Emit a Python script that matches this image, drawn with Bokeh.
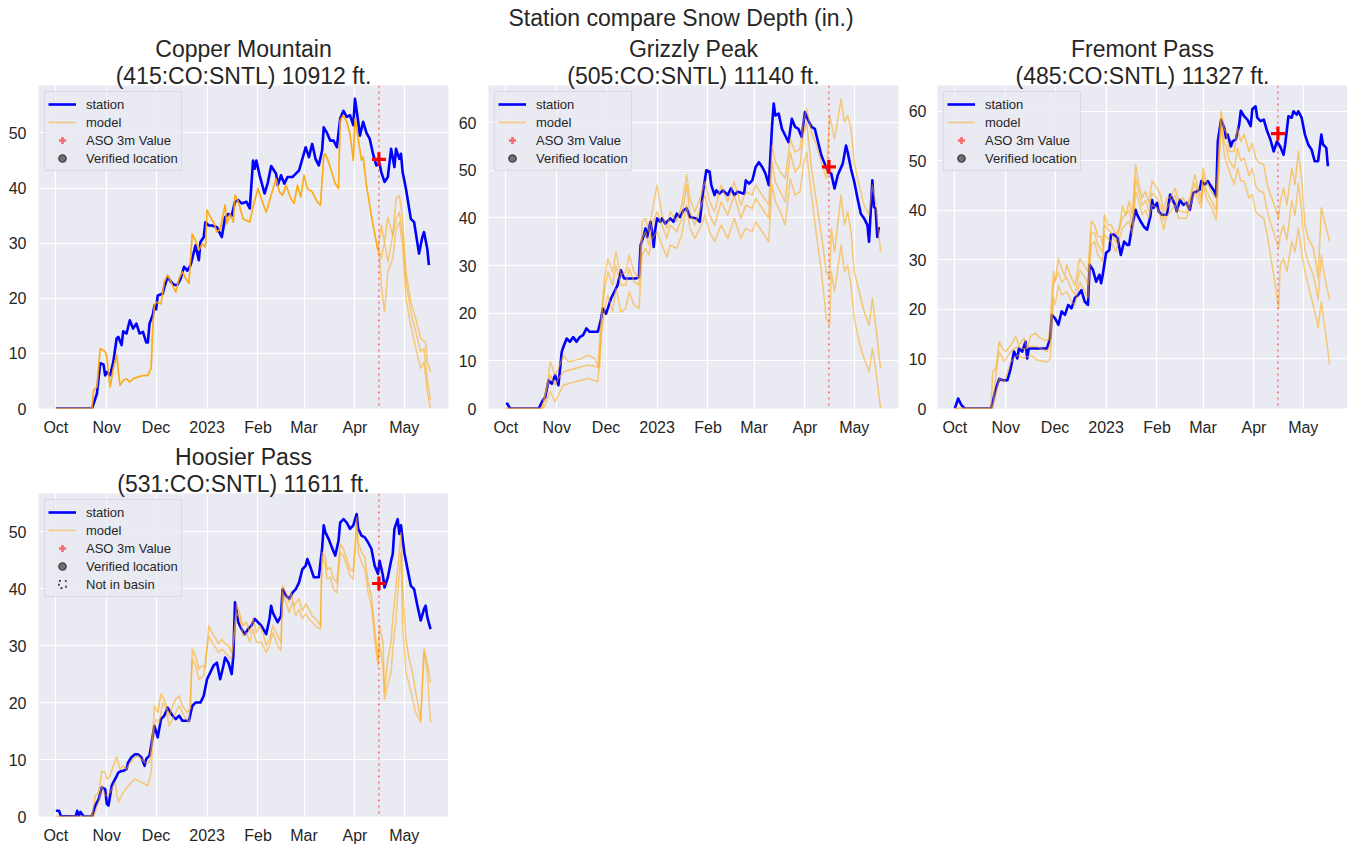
import pandas as pd
from bokeh.plotting import figure
from bokeh.models import (ColumnDataSource, Span, Legend, LegendItem, Title,
                          FixedTicker, Range1d)
from bokeh.layouts import column, row
from bokeh.embed import file_html
from bokeh.resources import INLINE

# ---------------------------------------------------------------- texts / axes
SUPTITLE = "Station compare Snow Depth (in.)"
STATION_NAMES = ["Copper Mountain", "Grizzly Peak", "Fremont Pass", "Hoosier Pass"]
STATION_IDS = ["(415:CO:SNTL) 10912 ft.", "(505:CO:SNTL) 11140 ft.",
               "(485:CO:SNTL) 11327 ft.", "(531:CO:SNTL) 11611 ft."]
SEASON_START = "2022-10-01"
X_START = "2022-09-20 10:48"
X_END = "2023-05-27 22:00"
MONTH_TICKS = ["2022-10-01", "2022-11-01", "2022-12-01", "2023-01-01",
               "2023-02-01", "2023-03-01", "2023-04-01", "2023-05-01"]
MONTH_LABELS = ["Oct", "Nov", "Dec", "2023", "Feb", "Mar", "Apr", "May"]
Y_MAX = [58.6, 67.8, 65.2, 56.7]
Y_TICKS = [[0, 10, 20, 30, 40, 50], [0, 10, 20, 30, 40, 50, 60],
           [0, 10, 20, 30, 40, 50, 60], [0, 10, 20, 30, 40, 50]]
ASO_DATE = "2023-04-15 14:00"
ASO_VALUES = [45.2, 50.7, 55.5, 40.9]
LEGEND_LABELS = ["station", "model", "ASO 3m Value", "Verified location", "Not in basin"]

# ---------------------------------------------------------------- data
# (days since 2022-10-01, snow depth in inches)
# Copper Mountain
cm_station = [(0, 0), (22, 0), (25, 2.7), (27, 8.2), (29, 8.0), (30, 6.0), (31, 6.6), (33, 6.0),
              (35, 8.5), (37, 12.7), (38, 13.0), (40, 11.5), (41, 14.0), (43, 13.6), (45, 16.0),
              (47, 14.5), (49, 15.4), (51, 13.6), (53, 13.9), (55, 12.0), (56, 12.0), (57, 15.4),
              (59, 17.0), (60, 18.7), (61, 18.0), (62, 20.5), (65, 20.8), (66, 22.0), (68, 23.9),
              (70, 23.0), (72, 22.4), (74, 22.4), (76, 23.6), (78, 25.7), (80, 25.0), (82, 26.0),
              (83, 27.2), (85, 29.6), (87, 26.9), (88, 30.2), (90, 31.1), (91, 33.8), (93, 33.2),
              (95, 33.2), (98, 32.9), (101, 31.1), (103, 34.7), (105, 35.3), (107, 35.0),
              (109, 37.5), (111, 37.8), (113, 37.2), (116, 37.5), (118, 36.3), (120, 45.0),
              (121, 43.5), (122, 45.0), (124, 42.3), (127, 39.0), (129, 41.0), (131, 44.0),
              (134, 42.6), (135, 40.5), (137, 42.3), (139, 40.8), (141, 42.0), (144, 42.0),
              (145, 42.3), (148, 43.2), (150, 45.3), (152, 47.4), (154, 45.6), (156, 48.0),
              (158, 45.3), (160, 44.1), (162, 46.8), (163, 51.0), (165, 50.0), (167, 48.6),
              (169, 48.6), (171, 47.4), (173, 52.6), (175, 54.0), (177, 52.9), (179, 53.2),
              (181, 51.4), (182, 56.2), (184, 52.0), (185, 49.5), (187, 52.0), (189, 50.0),
              (191, 48.9), (193, 46.2), (195, 44.1), (197, 44.4), (198, 42.9), (200, 41.1),
              (202, 42.0), (204, 47.1), (206, 43.8), (207, 47.1), (209, 45.3), (210, 46.2),
              (211, 42.9), (213, 39.9), (216, 34.4), (218, 33.8), (221, 28.1), (223, 31.1),
              (224, 32.0), (226, 29.0), (227, 26.0)]
cm_model_common = [(0, 0), (22, 0), (23, 3.3), (25, 3.9), (27, 10.9), (30, 10.3), (31, 9.4), (33, 3.9),
                   (35, 7.3), (37, 9.7), (39, 4.2), (41, 5.1), (43, 5.4), (45, 4.8), (47, 5.4), (50, 5.7),
                   (53, 6.0), (56, 6.0), (58, 7.3), (59, 15.1), (60, 18.7), (61, 19.3), (64, 19.0),
                   (66, 23.0), (68, 24.2), (70, 23.0), (73, 21.1), (75, 23.6), (77, 24.8), (79, 23.6),
                   (81, 22.7), (83, 31.7), (85, 30.5), (87, 28.7), (89, 29.9), (91, 29.3), (92, 36.0),
                   (94, 34.7), (96, 33.8), (98, 32.0), (100, 32.6), (103, 36.9), (104, 33.5),
                   (106, 35.3), (108, 33.8), (109, 38.7), (111, 37.5), (114, 34.4), (116, 34.1),
                   (118, 33.8), (120, 36.6), (123, 39.9), (125, 38.1), (128, 35.6), (131, 38.7),
                   (134, 41.7), (136, 39.3), (138, 38.7), (140, 40.5), (143, 38.1), (145, 37.2),
                   (147, 40.5), (149, 38.4), (151, 42.3), (153, 39.9), (156, 39.3), (159, 37.5),
                   (161, 36.9), (163, 45.9), (164, 46.2), (166, 44.7), (170, 40.8), (172, 39.9),
                   (173, 52.3), (175, 53.2), (177, 52.0), (179, 49.8), (181, 45.0), (182, 52.6),
                   (184, 48.9), (186, 45.0), (187, 45.6), (189, 40.5), (192, 35.0), (195, 30.2),
                   (196, 28.7)]
cm_member_a = [(197, 30.8), (198, 33.2), (200, 30.2), (202, 34.7), (205, 31.4), (207, 38.1), (209, 38.7),
               (211, 34.4), (213, 24.8), (216, 19.3), (219, 16.3), (222, 12.7), (225, 12.0), (226, 8.5),
               (228, 6.6)]
cm_member_b = [(197, 28.7), (198, 27.2), (200, 30.2), (202, 26.6), (205, 31.4), (207, 34.4), (209, 35.6),
               (211, 31.4), (213, 23.0), (216, 17.5), (219, 13.9), (222, 10.3), (224, 10.9), (226, 5.4),
               (228, 1.5)]
cm_member_c = [(197, 27.2), (198, 22.4), (200, 17.5), (202, 24.8), (205, 27.2), (207, 32.6), (209, 33.8),
               (211, 29.6), (213, 19.9), (216, 15.1), (219, 10.9), (222, 7.3), (224, 8.5), (226, 3.0),
               (228, 0.0)]

# Grizzly Peak
gp_station = [(0, 1.0), (1, 1.0), (2, 0.3), (3, 0), (20, 0), (22, 1.4), (24, 2.4), (26, 5.9), (28, 5.2),
              (30, 7.0), (32, 4.9), (34, 11.9), (35, 12.9), (37, 14.7), (39, 14.0), (41, 15.0),
              (43, 14.0), (45, 15.0), (47, 15.4), (49, 16.8), (51, 16.1), (56, 16.1), (58, 18.9),
              (59, 21.0), (61, 19.9), (64, 23.1), (66, 24.5), (68, 25.9), (70, 29.0), (72, 27.3),
              (74, 27.3), (79, 27.3), (81, 27.6), (82, 34.3), (84, 36.4), (85, 37.8), (86, 36.0),
              (88, 39.2), (89, 37.1), (90, 33.9), (91, 37.8), (92, 39.9), (94, 39.2), (95, 39.9),
              (97, 38.8), (100, 39.9), (102, 39.2), (104, 40.9), (106, 40.2), (108, 41.6), (110, 42.0),
              (112, 40.2), (116, 39.9), (118, 39.2), (120, 45.5), (122, 50.0), (124, 49.7), (125, 46.9),
              (127, 44.8), (128, 45.8), (130, 45.1), (132, 45.8), (135, 44.8), (137, 46.2), (139, 44.8),
              (141, 45.5), (145, 45.1), (146, 47.9), (148, 47.2), (150, 47.9), (152, 50.7), (154, 51.7),
              (156, 50.7), (158, 49.3), (160, 46.9), (162, 59.4), (163, 64.0), (164, 61.5), (166, 61.9),
              (168, 58.7), (170, 57.3), (172, 55.9), (174, 60.8), (176, 59.1), (178, 58.7), (180, 57.0),
              (182, 62.2), (184, 60.5), (186, 59.1), (188, 58.7), (190, 55.9), (192, 53.1), (194, 51.4),
              (196, 49.7), (198, 49.3), (200, 46.2), (202, 49.0), (205, 51.4), (207, 55.2), (208, 53.8),
              (210, 50.3), (212, 47.6), (214, 44.1), (216, 40.9), (218, 39.9), (220, 38.5), (221, 35.0),
              (222, 41.3), (223, 47.9), (224, 42.3), (225, 42.0), (226, 36.0), (227, 38.1)]
gp_model_high = [(0, 0), (22, 0), (25, 4.9), (27, 9.8), (30, 7.0), (32, 8.4), (35, 11.2), (38, 9.8),
                 (42, 10.1), (46, 10.5), (50, 11.2), (54, 10.5), (57, 8.4), (59, 23.1), (60, 27.3),
                 (62, 31.5), (65, 28.7), (67, 32.9), (70, 28.0), (73, 28.7), (75, 32.2), (78, 28.7),
                 (81, 27.3), (83, 39.2), (85, 39.9), (87, 37.1), (89, 41.3), (92, 46.9), (95, 40.6),
                 (98, 37.8), (100, 41.3), (104, 39.2), (107, 42.7), (110, 49.0), (112, 44.1), (115, 41.3),
                 (119, 44.8), (121, 47.6), (124, 43.4), (127, 41.3), (131, 46.9), (135, 43.4), (139, 47.6),
                 (143, 42.7), (146, 45.5), (150, 44.8), (152, 46.9), (156, 44.8), (160, 42.7), (162, 55.2),
                 (164, 51.7), (167, 49.7), (170, 48.3), (173, 56.6), (176, 53.8), (179, 54.5), (181, 60.1),
                 (183, 62.9), (186, 58.0), (189, 55.2), (192, 51.7), (195, 48.3), (197, 61.5), (200, 56.6),
                 (204, 65.0), (206, 60.1), (208, 61.5), (210, 58.7), (212, 51.7), (215, 46.9), (218, 42.7),
                 (221, 40.6), (223, 46.9), (225, 43.4), (228, 32.9)]
gp_model_mid = [(0, 0), (22, 0), (27, 7.0), (30, 4.9), (32, 6.3), (35, 7.7), (42, 8.4), (50, 9.1),
                (56, 8.7), (58, 18.9), (60, 24.5), (62, 28.7), (65, 25.9), (67, 30.1), (70, 25.9),
                (73, 25.9), (75, 29.4), (78, 26.6), (81, 25.9), (83, 35.7), (85, 37.1), (87, 34.3),
                (89, 38.5), (92, 41.3), (95, 38.5), (98, 35.7), (100, 38.5), (104, 37.1), (107, 39.9),
                (110, 46.9), (112, 41.3), (115, 38.5), (119, 42.7), (121, 44.8), (124, 40.6), (127, 38.5),
                (131, 43.4), (135, 40.6), (139, 44.8), (143, 39.9), (146, 42.7), (150, 42.0), (152, 44.1),
                (156, 42.0), (160, 39.9), (162, 51.7), (164, 47.6), (167, 45.5), (170, 43.4), (173, 53.8),
                (176, 49.7), (179, 51.0), (181, 57.3), (183, 60.1), (186, 50.3), (189, 43.4), (192, 36.4),
                (195, 28.7), (197, 27.3), (198, 37.8), (200, 32.9), (204, 44.8), (206, 38.5), (208, 41.3),
                (210, 37.1), (212, 28.7), (215, 24.5), (218, 20.3), (221, 17.5), (223, 23.1), (225, 17.5),
                (228, 8.4)]
gp_model_low = [(0, 0), (23, 0), (27, 3.5), (30, 1.4), (32, 2.8), (35, 4.9), (42, 5.6), (50, 6.3),
                (56, 5.6), (58, 15.4), (60, 20.3), (62, 23.8), (65, 20.3), (67, 25.2), (70, 20.3),
                (73, 21.0), (75, 24.5), (78, 21.7), (81, 21.0), (83, 32.2), (85, 33.6), (87, 32.2),
                (89, 35.7), (92, 37.1), (95, 34.3), (98, 31.8), (100, 34.3), (104, 33.6), (107, 36.4),
                (110, 42.7), (112, 37.8), (115, 35.7), (119, 38.5), (121, 40.6), (124, 37.1), (127, 35.0),
                (131, 38.5), (135, 35.7), (139, 39.9), (143, 35.7), (146, 37.8), (150, 37.1), (152, 39.2),
                (156, 37.1), (160, 35.0), (162, 46.9), (164, 43.4), (167, 41.3), (170, 38.5), (173, 48.3),
                (176, 44.8), (179, 45.5), (181, 51.0), (183, 53.8), (186, 44.8), (189, 36.4), (192, 28.7),
                (195, 18.9), (197, 17.5), (198, 28.7), (200, 24.6), (204, 34.3), (206, 28.7), (208, 30.1),
                (210, 25.9), (212, 18.9), (215, 14.0), (218, 10.5), (221, 7.7), (223, 12.6), (225, 8.4),
                (228, 0.0)]

# Fremont Pass
fp_station = [(0, 0), (2, 2.0), (4, 0.7), (6, 0), (22, 0), (23, 1.3), (25, 4.0), (27, 6.0), (29, 5.7),
              (32, 5.7), (34, 8.1), (36, 11.5), (38, 10.1), (39, 12.1), (41, 11.5), (43, 13.5),
              (44, 10.1), (45, 12.1), (48, 12.1), (54, 12.1), (56, 12.1), (58, 14.2), (59, 18.9),
              (61, 18.2), (63, 16.9), (65, 19.6), (67, 18.9), (69, 20.9), (71, 20.2), (73, 22.3),
              (75, 22.9), (77, 23.9), (79, 21.6), (81, 20.9), (82, 29.0), (84, 28.0), (86, 25.6),
              (88, 27.0), (89, 25.3), (90, 27.0), (92, 31.4), (94, 32.0), (95, 35.1), (97, 35.1),
              (99, 34.4), (101, 31.0), (103, 33.7), (105, 33.0), (106, 33.0), (108, 37.1), (110, 40.1),
              (111, 39.1), (113, 37.8), (115, 36.7), (117, 36.1), (119, 38.8), (120, 42.1), (121, 40.5),
              (123, 41.5), (124, 39.8), (126, 39.1), (129, 39.1), (131, 43.2), (134, 41.1), (135, 39.8),
              (137, 42.1), (139, 41.1), (141, 41.5), (143, 40.1), (145, 43.5), (147, 43.8), (149, 44.2),
              (150, 45.9), (152, 45.2), (154, 45.9), (156, 44.8), (158, 43.8), (159, 42.8), (160, 53.9),
              (162, 58.3), (164, 56.6), (165, 54.6), (166, 55.3), (168, 52.9), (169, 53.9), (171, 54.3),
              (173, 57.3), (174, 60.1), (176, 59.0), (178, 58.3), (180, 57.0), (181, 60.4), (183, 61.0),
              (184, 58.7), (186, 58.0), (188, 58.3), (190, 56.0), (192, 54.3), (194, 51.9), (196, 53.9),
              (198, 52.9), (200, 51.2), (201, 53.3), (203, 59.0), (205, 58.7), (206, 60.0), (208, 59.3),
              (209, 60.0), (211, 58.7), (213, 55.3), (215, 53.3), (217, 52.3), (219, 49.9), (221, 49.9),
              (223, 55.3), (224, 53.3), (226, 52.6), (227, 48.9)]
fp_model_main = [(0, 0), (22, 0), (23, 7.4), (25, 8.1), (27, 13.5), (29, 12.1), (31, 11.5), (34, 12.8),
                 (37, 14.5), (39, 12.8), (42, 14.2), (44, 12.1), (46, 14.5), (49, 15.2), (52, 14.2),
                 (55, 13.8), (57, 13.8), (58, 16.9), (60, 27.6), (61, 25.6), (63, 30.3), (65, 28.3),
                 (67, 26.6), (68, 29.0), (71, 26.3), (73, 24.9), (76, 30.3), (79, 28.7), (81, 27.6),
                 (83, 37.8), (85, 37.1), (87, 34.7), (89, 34.7), (90, 33.0), (91, 39.1), (93, 37.1),
                 (95, 37.1), (98, 35.1), (100, 36.4), (102, 40.8), (104, 39.1), (106, 41.8), (108, 39.1),
                 (110, 49.2), (112, 45.2), (114, 42.5), (116, 43.8), (118, 41.5), (120, 45.9), (123, 44.5),
                 (125, 43.2), (127, 39.8), (129, 42.5), (131, 42.5), (134, 44.5), (136, 42.1), (139, 42.5),
                 (141, 40.8), (143, 42.5), (146, 47.2), (148, 44.5), (150, 42.5), (151, 48.5), (153, 45.9),
                 (156, 43.8), (159, 42.5), (160, 48.5), (162, 60.0), (164, 56.3), (165, 56.0), (167, 51.9),
                 (170, 51.9), (172, 56.6), (174, 53.9), (176, 55.3), (179, 51.9), (181, 53.6), (183, 50.6),
                 (185, 49.6), (188, 49.2), (190, 45.2), (192, 43.2), (195, 40.5), (197, 38.4), (198, 41.8),
                 (200, 44.5), (202, 41.1), (205, 48.5), (207, 45.2), (209, 51.9), (211, 46.5), (213, 37.1),
                 (215, 34.4), (218, 32.4), (220, 29.0), (221, 26.3), (223, 40.5), (224, 39.1), (226, 36.4),
                 (228, 33.7)]
fp_model_mid = [(0, 0), (23, 0), (25, 7.0), (27, 11.5), (30, 9.5), (34, 11.5), (38, 12.5), (42, 12.0),
                (46, 12.5), (50, 12.5), (56, 11.5), (58, 13.0), (60, 25.0), (63, 27.5), (65, 25.5),
                (68, 26.5), (71, 24.0), (73, 23.0), (76, 28.0), (79, 26.5), (81, 25.0), (83, 35.5),
                (85, 35.5), (87, 33.0), (90, 31.5), (91, 37.0), (95, 35.5), (98, 33.5), (102, 38.5),
                (106, 40.0), (108, 37.0), (110, 46.5), (112, 43.5), (114, 41.0), (116, 42.0), (118, 40.0),
                (120, 43.5), (123, 42.5), (125, 41.0), (127, 38.0), (129, 40.5), (134, 43.0), (136, 40.0),
                (141, 39.5), (146, 45.5), (150, 41.5), (151, 47.0), (153, 44.0), (156, 42.0), (159, 40.0),
                (160, 46.0), (162, 58.5), (164, 53.5), (165, 53.0), (167, 50.0), (170, 48.5), (172, 52.5),
                (174, 50.0), (176, 50.5), (179, 47.0), (181, 48.5), (183, 45.0), (185, 44.0), (188, 43.5),
                (190, 40.0), (192, 37.5), (195, 34.5), (197, 32.5), (198, 35.0), (200, 37.0), (202, 34.0),
                (205, 42.0), (207, 39.0), (209, 45.5), (211, 40.0), (213, 32.0), (215, 29.5), (218, 27.0),
                (220, 24.0), (221, 22.0), (223, 31.0), (224, 28.5), (226, 25.0), (228, 22.0)]
fp_model_low = [(0, 0), (23, 0), (27, 6.1), (30, 5.4), (34, 9.4), (38, 10.8), (42, 10.1), (46, 10.8),
                (50, 9.8), (56, 9.4), (58, 10.1), (60, 22.3), (61, 20.9), (63, 24.9), (65, 22.9),
                (68, 23.6), (71, 21.6), (73, 20.9), (76, 25.6), (79, 23.6), (81, 22.3), (83, 33.0),
                (85, 33.7), (87, 31.0), (90, 29.7), (91, 35.1), (95, 33.7), (98, 31.7), (102, 36.4),
                (106, 37.8), (108, 35.1), (110, 43.8), (112, 41.8), (114, 39.1), (116, 40.1), (118, 38.4),
                (120, 41.1), (123, 40.5), (125, 39.1), (127, 36.1), (129, 38.8), (134, 41.1), (136, 38.4),
                (141, 38.4), (146, 43.8), (150, 40.5), (151, 45.2), (153, 42.5), (156, 40.8), (159, 38.1),
                (160, 43.8), (162, 57.3), (164, 51.2), (165, 49.9), (167, 47.9), (170, 45.2), (172, 48.5),
                (174, 45.9), (176, 45.9), (179, 42.5), (181, 43.2), (183, 39.8), (185, 39.1), (188, 38.4),
                (190, 35.1), (192, 31.0), (195, 24.9), (197, 20.2), (198, 29.0), (200, 30.3), (202, 27.6),
                (205, 33.7), (207, 31.7), (209, 36.4), (211, 31.7), (213, 27.6), (215, 24.9), (218, 20.9),
                (220, 18.2), (221, 16.2), (223, 21.6), (224, 18.9), (226, 14.2), (228, 8.8)]

# Hoosier Pass
hp_station = [(0, 1.0), (2, 1.0), (3, 0.1), (12, 0), (13, 1.0), (14, 0.1), (15, 0.8), (17, 0), (22, 0),
              (24, 1.9), (26, 3.0), (28, 5.1), (30, 4.8), (31, 2.2), (32, 1.9), (34, 5.4), (35, 6.0),
              (37, 7.1), (38, 7.7), (40, 8.0), (41, 8.0), (43, 8.3), (44, 9.5), (46, 10.4), (48, 10.9),
              (50, 10.9), (52, 10.4), (54, 8.9), (55, 10.1), (57, 10.7), (59, 14.2), (60, 15.9),
              (62, 13.9), (64, 17.1), (66, 17.7), (68, 19.1), (71, 17.7), (73, 17.1), (75, 17.7),
              (77, 16.8), (81, 16.8), (83, 19.4), (85, 20.0), (88, 20.0), (90, 21.2), (92, 24.1),
              (94, 25.3), (96, 26.5), (98, 27.0), (100, 24.1), (102, 26.5), (103, 27.9), (105, 27.0),
              (107, 25.0), (108, 28.2), (109, 37.6), (111, 34.1), (113, 32.9), (115, 32.0), (117, 32.9),
              (119, 33.5), (121, 34.7), (123, 34.1), (125, 33.5), (128, 32.0), (130, 34.7), (131, 37.0),
              (132, 35.8), (135, 34.1), (137, 35.2), (138, 39.9), (140, 38.8), (142, 38.2), (144, 39.3),
              (146, 39.9), (148, 41.1), (150, 43.4), (152, 44.0), (153, 45.2), (155, 43.7), (157, 42.0),
              (160, 42.0), (162, 47.0), (163, 51.1), (164, 49.9), (166, 48.7), (168, 47.2), (170, 45.8),
              (172, 48.4), (173, 51.6), (175, 52.2), (177, 51.6), (179, 50.5), (181, 51.1), (183, 53.1),
              (184, 50.5), (186, 49.3), (188, 49.0), (190, 48.1), (192, 47.0), (194, 44.0), (196, 42.6),
              (197, 44.9), (199, 42.3), (200, 40.2), (202, 42.0), (204, 44.9), (205, 46.1), (206, 50.5),
              (208, 52.2), (209, 49.6), (210, 51.1), (212, 46.4), (214, 43.4), (216, 40.5), (218, 39.9),
              (220, 37.0), (222, 34.4), (224, 36.4), (225, 37.0), (226, 35.0), (228, 32.9)]
hp_model_main = [(0, 0), (22, 0), (24, 3.6), (26, 4.2), (28, 8.0), (30, 7.7), (31, 6.6), (33, 7.1),
                 (35, 8.9), (37, 10.4), (39, 8.3), (41, 8.9), (43, 8.3), (44, 8.9), (47, 10.1), (50, 10.7),
                 (54, 9.5), (57, 9.5), (59, 14.8), (60, 19.4), (62, 18.3), (64, 21.5), (66, 20.6),
                 (69, 17.7), (71, 19.4), (73, 20.6), (75, 21.2), (77, 19.4), (80, 18.3), (82, 18.9),
                 (83, 29.4), (85, 28.2), (87, 25.9), (89, 26.5), (91, 26.2), (93, 33.5), (95, 32.3),
                 (97, 31.4), (99, 30.3), (101, 31.1), (103, 30.3), (105, 30.0), (107, 28.8), (108, 30.6),
                 (110, 37.3), (111, 36.4), (114, 33.5), (116, 34.1), (118, 32.3), (120, 34.7), (122, 32.3),
                 (124, 33.5), (126, 32.3), (128, 30.0), (130, 31.1), (132, 33.5), (135, 31.7), (137, 30.6),
                 (138, 40.5), (140, 39.3), (142, 37.6), (143, 39.3), (145, 37.0), (148, 38.2), (150, 36.1),
                 (152, 37.3), (154, 36.4), (156, 35.2), (159, 34.4), (161, 33.5), (162, 46.4), (164, 45.5),
                 (165, 43.4), (167, 43.7), (169, 41.7), (171, 41.1), (173, 47.8), (175, 47.0), (177, 45.2),
                 (179, 43.4), (181, 43.1), (183, 52.5), (184, 48.1), (186, 46.4), (188, 45.5), (190, 41.1),
                 (192, 38.8), (194, 32.9), (196, 27.6), (197, 33.5), (199, 30.6), (200, 21.8), (202, 27.6),
                 (204, 30.6), (205, 34.7), (207, 40.5), (208, 43.4), (210, 49.9), (211, 40.5), (213, 31.1),
                 (215, 27.6), (217, 25.3), (219, 21.8), (222, 17.1), (224, 29.4), (226, 27.0), (228, 23.5)]
hp_model_low = [(0, 0), (23, 0), (26, 2.5), (28, 5.4), (30, 3.6), (33, 4.2), (36, 6.0), (38, 2.5),
                (41, 4.2), (44, 5.4), (48, 6.6), (52, 6.0), (56, 5.4), (58, 7.7), (59, 14.2), (61, 17.1),
                (63, 16.4), (65, 20.0), (67, 18.9), (69, 15.9), (72, 17.7), (75, 19.4), (78, 17.7),
                (81, 16.5), (83, 27.6), (85, 26.5), (87, 24.1), (90, 24.7), (93, 31.7), (95, 30.6),
                (99, 28.8), (101, 29.4), (105, 28.2), (107, 27.6), (110, 35.8), (112, 34.7), (114, 31.7),
                (116, 32.3), (118, 30.6), (120, 32.9), (122, 30.6), (125, 30.6), (128, 28.8), (130, 30.0),
                (132, 32.3), (135, 30.0), (137, 29.1), (138, 39.3), (140, 37.6), (142, 35.8), (144, 37.6),
                (146, 35.2), (148, 36.4), (150, 34.7), (152, 35.6), (154, 34.7), (156, 34.1), (159, 33.2),
                (161, 32.9), (162, 45.7), (164, 44.0), (165, 41.7), (167, 42.0), (169, 39.9), (171, 39.3),
                (173, 46.4), (175, 45.7), (177, 44.0), (179, 42.3), (181, 41.7), (183, 51.1), (184, 46.4),
                (186, 44.6), (188, 43.4), (190, 39.3), (192, 37.0), (194, 31.1), (196, 26.5), (197, 30.0),
                (199, 26.5), (200, 20.6), (202, 23.2), (204, 25.3), (205, 29.4), (207, 34.7), (208, 38.8),
                (210, 46.4), (211, 33.5), (213, 25.3), (215, 23.2), (217, 20.6), (219, 18.3), (222, 16.5),
                (224, 28.8), (226, 25.3), (228, 16.5)]

PANELS = [
    dict(station=cm_station,
         members=[cm_model_common + cm_member_a, cm_model_common + cm_member_b,
                  cm_model_common + cm_member_c],
         not_in_basin=False),
    dict(station=gp_station, members=[gp_model_mid, gp_model_high, gp_model_low], not_in_basin=False),
    dict(station=fp_station, members=[fp_model_main, fp_model_mid, fp_model_low], not_in_basin=False),
    dict(station=hp_station, members=[hp_model_main, hp_model_low], not_in_basin=True),
]

# ---------------------------------------------------------------- style
FONT = "Liberation Sans"
TEXT_COLOR = "#262626"
BG = "#EAEAF2"
STATION_COLOR = "#0000FF"
MODEL_COLOR = "#FFA500"
START = pd.Timestamp(SEASON_START)


def to_source(pairs):
    days, depth = zip(*pairs)
    return ColumnDataSource(dict(date=[START + pd.Timedelta(days=d) for d in days], depth=list(depth)))


def month_ms(s):
    return int(pd.Timestamp(s).value // 10**6)


def title(text, standoff, **kw):
    return Title(text=text, text_font=FONT, text_font_size="23px", text_font_style="normal",
                 text_color=TEXT_COLOR, standoff=standoff, **kw)


def make_legend(items):
    return Legend(items=items, location="top_left", margin=6, padding=3, spacing=0,
                  glyph_width=28, glyph_height=18, label_height=18, label_standoff=10,
                  label_text_font=FONT, label_text_font_size="13px", label_text_color=TEXT_COLOR,
                  background_fill_color=BG, background_fill_alpha=0.8,
                  border_line_color="#CCCCCC", border_line_width=1)


def make_panel(i, left, right, top, bottom, x_standoff, y_standoff, suptitle=False):
    spec = PANELS[i]
    p = figure(frame_width=410, frame_height=323, x_axis_type="datetime",
               x_range=Range1d(pd.Timestamp(X_START), pd.Timestamp(X_END)),
               y_range=Range1d(0, Y_MAX[i]), title=None,
               toolbar_location=None, output_backend="svg",
               min_border_left=left, min_border_right=right,
               min_border_top=top, min_border_bottom=bottom,
               background_fill_color=BG, border_fill_color="white",
               outline_line_color=None)
    # a range far away from the data: renderers on it only feed the legend
    p.extra_y_ranges = {"legend_only": Range1d(1000, 1001)}

    ticks = [month_ms(t) for t in MONTH_TICKS]
    p.xaxis.ticker = FixedTicker(ticks=ticks)
    p.xaxis.major_label_overrides = {t: lab for t, lab in zip(ticks, MONTH_LABELS)}
    p.yaxis.ticker = FixedTicker(ticks=Y_TICKS[i])
    for ax in p.xaxis + p.yaxis:
        ax.axis_line_color = None
        ax.major_tick_line_color = None
        ax.minor_tick_line_color = None
        ax.major_tick_out = 0
        ax.major_tick_in = 0
        ax.minor_tick_out = 0
        ax.minor_tick_in = 0
        ax.major_label_text_font = FONT
        ax.major_label_text_font_size = "16px"
        ax.major_label_text_color = TEXT_COLOR
    p.xaxis.major_label_standoff = x_standoff
    p.yaxis.major_label_standoff = y_standoff
    p.xgrid.grid_line_color = "white"
    p.ygrid.grid_line_color = "white"
    p.xgrid.grid_line_width = 1.2
    p.ygrid.grid_line_width = 1.2

    # titles (first added sits closest to the frame)
    p.add_layout(title(STATION_IDS[i], -6, align="center"), "above")
    p.add_layout(title(STATION_NAMES[i], 4, align="center"), "above")
    if suptitle:
        p.add_layout(title(SUPTITLE, 2, align="left", offset=20), "above")

    # data
    st = p.line("date", "depth", source=to_source(spec["station"]), line_color=STATION_COLOR,
                line_width=2.6, line_join="round")
    model_r = []
    for k, m in enumerate(spec["members"]):
        model_r.append(p.line("date", "depth", source=to_source(m), line_color=MODEL_COLOR,
                              line_alpha=0.55 if k == 0 else 0.5, line_width=1.5,
                              line_join="round"))
    p.add_layout(Span(location=month_ms(ASO_DATE), dimension="height", line_color="red",
                      line_dash="dotted", line_width=1, line_alpha=0.8))
    aso = dict(date=[pd.Timestamp(ASO_DATE)], depth=[ASO_VALUES[i]])
    p.scatter("date", "depth", source=ColumnDataSource(aso), marker="cross", size=14,
              line_color="red", line_width=3.2)

    # legend-only glyphs
    leg_aso = p.scatter("date", "depth", source=ColumnDataSource(aso), y_range_name="legend_only",
                        marker="cross", size=14, line_color="red", line_alpha=0.55, line_width=2.6)
    leg_ver = p.scatter("date", "depth", source=ColumnDataSource(aso), y_range_name="legend_only",
                        marker="circle", size=11, fill_color="#555555", fill_alpha=0.8,
                        line_color="#444444", line_width=1.5)
    items = [LegendItem(label=LEGEND_LABELS[0], renderers=[st]),
             LegendItem(label=LEGEND_LABELS[1], renderers=[model_r[1]]),
             LegendItem(label=LEGEND_LABELS[2], renderers=[leg_aso]),
             LegendItem(label=LEGEND_LABELS[3], renderers=[leg_ver])]
    if spec["not_in_basin"]:
        leg_nb = p.scatter("date", "depth", source=ColumnDataSource(aso), y_range_name="legend_only",
                           marker="square", size=12, fill_color=None, line_color="#333333",
                           line_dash="dotted", line_width=1.6)
        items.append(LegendItem(label=LEGEND_LABELS[4], renderers=[leg_nb]))
    p.add_layout(make_legend(items))
    return p


p1 = make_panel(0, 38, 7, 85, 30, 10, 12)
p2 = make_panel(1, 33, 7, 85, 30, 10, 12, suptitle=True)
p3 = make_panel(2, 32, 0, 85, 30, 10, 11)
p4 = make_panel(3, 38, 0, 55, 30, 10, 12)

layout = column(row(p1, p2, p3), row(p4))
open("out.html", "w").write(file_html(layout, INLINE))
